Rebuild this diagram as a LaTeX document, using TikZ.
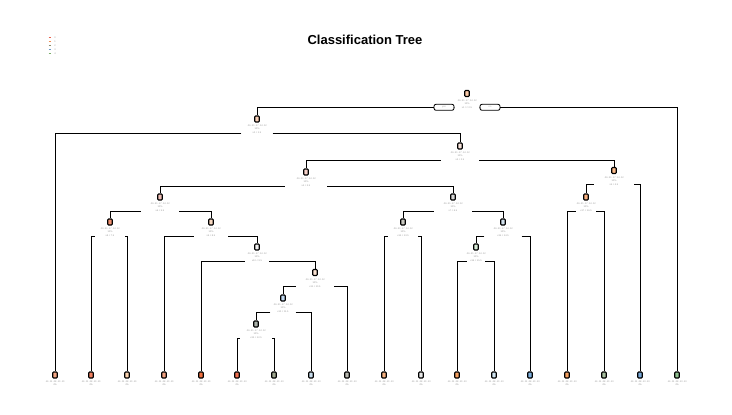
\documentclass[tikz,border=0pt]{standalone}
\usepackage{fontspec}
\setmainfont{Liberation Sans}
\begin{document}
\begin{tikzpicture}[x=1pt,y=-1pt,
  box/.style={draw=black,line width=1.1pt,rounded corners=0.8pt,minimum width=4.5pt,minimum height=6pt,inner sep=0pt},
  info/.style={font=\fontsize{2.4}{3}\selectfont,text=gray!80,align=center,inner sep=0pt},
  split/.style={font=\fontsize{2.4}{3}\selectfont,text=gray!80,inner sep=0pt,minimum height=0pt},
  edge/.style={draw=black,line width=0.85pt},
  yn/.style={draw=black,line width=0.85pt,rounded corners=2pt,minimum width=20pt,minimum height=6pt,inner sep=0pt,font=\fontsize{2.4}{3}\selectfont,text=gray!70},
  legline/.style={line width=0.9pt},
  legtxt/.style={font=\fontsize{2.4}{3}\selectfont,text=gray!80,inner sep=0pt}]
\useasboundingbox (0,0) rectangle (732,415);
\newcommand\inode[6]{%
  \definecolor{fc#1}{HTML}{#4}%
  \node[box,fill=fc#1] (#1) at (#2,#3) {};
  \node[info] (#1t) at (#2,#3+8.5) {.26 .31 .17 .14 .12\\ 12\%};
  \node[split,minimum width=#6] (#1s) at (#2,#3+14) {#5};}
\newcommand\leafnode[3]{%
  \definecolor{fc#1}{HTML}{#3}%
  \node[box,fill=fc#1] (#1) at (#2,375) {};
  \node[info] (#1t) at (#2,383.5) {.61 .11 .08 .10 .10\\ 4\%};}
\definecolor{cR}{HTML}{E8604C}
\definecolor{cO}{HTML}{F08C50}
\definecolor{cG}{HTML}{8C8C6C}
\definecolor{cB}{HTML}{6A9AC8}
\definecolor{cV}{HTML}{7AAE6A}
% title
\node[font=\bfseries\fontsize{13}{15}\selectfont] (title) at (365,40) {Classification Tree};
% legend
\foreach \i/\c in {0/cR,1/cO,2/cG,3/cB,4/cV}{
  \draw[legline,\c] (48.5,37.3+4*\i) -- (51,37.3+4*\i);
  \node[legtxt] (leg\i) at (55,37.3+4*\i) {\i};}
% internal nodes
\inode{n1}{467}{93.5}{F8C8A8}{x1 >= 0.5}{26pt}
\node[yn] (yes) at (444,107.3) {yes};
\node[yn] (no) at (490,107.3) {no};
\inode{n2}{257}{119}{F8D0B8}{x2 < 1.5}{31pt}
\inode{n3}{460}{146}{F8E4DC}{x3 < 2.5}{38pt}
\inode{n4}{306}{172}{F5D0C8}{x4 < 3.5}{42pt}
\inode{n5}{614}{170.5}{F8B888}{x5 < 4.5}{40pt}
\inode{n6}{160}{197}{F0C0B8}{x6 < 5.5}{38pt}
\inode{n7}{453}{197}{D8D8D8}{x7 < 6.5}{38pt}
\inode{n8}{110}{222}{F09070}{x8 < 7.5}{30pt}
\inode{n9}{211}{222}{F8D8C0}{x9 < 8.5}{34pt}
\inode{n10}{257}{247}{F0F0F0}{x10 < 9.5}{24pt}
\inode{n11}{315}{272.5}{F8E0D0}{x11 < 10.5}{38pt}
\inode{n12}{283}{298}{C0D8F0}{x12 < 11.5}{25pt}
\inode{n13}{256}{324}{A8B0A8}{x13 < 12.5}{32pt}
\inode{n14}{403}{222}{C8C8C0}{x14 < 13.5}{30pt}
\inode{n15}{503}{222}{D0E0EC}{x15 < 14.5}{37pt}
\inode{n16}{476}{247}{D8ECD8}{x16 < 15.5}{18pt}
\inode{n17}{586}{197}{F8B080}{x17 < 16.5}{20pt}
% leaves
\leafnode{l1}{55}{F4A582}
\leafnode{l2}{91}{F08060}
\leafnode{l3}{127}{FBD3B0}
\leafnode{l4}{164}{F0A080}
\leafnode{l5}{201}{F07040}
\leafnode{l6}{237}{F07050}
\leafnode{l7}{274}{A0A890}
\leafnode{l8}{311}{C8DCEC}
\leafnode{l9}{347}{B8B8B0}
\leafnode{l10}{384}{F5B080}
\leafnode{l11}{421}{E8E8E8}
\leafnode{l12}{457}{F5A060}
\leafnode{l13}{494}{D0E4F0}
\leafnode{l14}{530}{7EB0DE}
\leafnode{l15}{567}{F4A060}
\leafnode{l16}{604}{A8C0A0}
\leafnode{l17}{640}{78A8D8}
\leafnode{l18}{677}{90C090}
% connectors
\draw[edge] (n1s.west) -- (yes.east);
\draw[edge] (yes.west) -| (n2.north);
\draw[edge] (n1s.east) -- (no.west);
\draw[edge] (no.east) -| (l18.north);
\foreach \p/\a/\b in {n2/l1/n3, n3/n4/n5, n4/n6/n7, n6/n8/n9, n8/l2/l3, n9/l4/n10,
  n10/l5/n11, n11/n12/l9, n12/n13/l8, n13/l6/l7, n7/n14/n15, n14/l10/l11,
  n15/n16/l14, n16/l12/l13, n5/n17/l17, n17/l15/l16}{
  \draw[edge] (\p s.west) -| (\a.north);
  \draw[edge] (\p s.east) -| (\b.north);}
\end{tikzpicture}
\end{document}
